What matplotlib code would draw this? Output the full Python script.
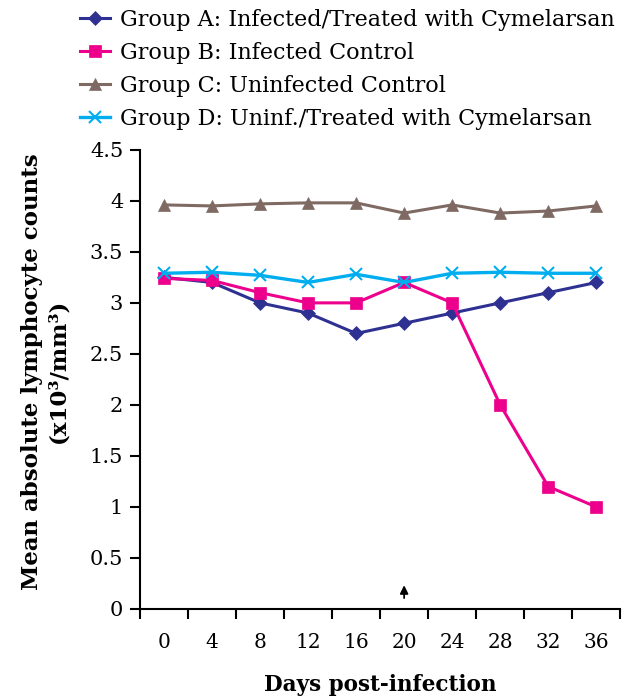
import numpy as np
import matplotlib
matplotlib.use("Agg")
import matplotlib.pyplot as plt
from matplotlib.ticker import FixedLocator, FixedFormatter

days = [0, 4, 8, 12, 16, 20, 24, 28, 32, 36]
group_a = [3.25, 3.20, 3.00, 2.90, 2.70, 2.80, 2.90, 3.00, 3.10, 3.20]
group_b = [3.24, 3.22, 3.10, 3.00, 3.00, 3.20, 3.00, 2.00, 1.20, 1.00]
group_c = [3.96, 3.95, 3.97, 3.98, 3.98, 3.88, 3.96, 3.88, 3.90, 3.95]
group_d = [3.29, 3.30, 3.27, 3.20, 3.28, 3.20, 3.29, 3.30, 3.29, 3.29]
labels = ["Group A: Infected/Treated with Cymelarsan",
          "Group B: Infected Control",
          "Group C: Uninfected Control",
          "Group D: Uninf./Treated with Cymelarsan"]
y_ticks = [0, 0.5, 1, 1.5, 2, 2.5, 3, 3.5, 4, 4.5]
y_tick_labels = ["0", "0.5", "1", "1.5", "2", "2.5", "3", "3.5", "4", "4.5"]

plt.rcParams["font.family"] = ["DejaVu Serif"]

fig = plt.figure(figsize=(6.33, 7), dpi=100)
ax = fig.add_axes([0.221, 0.13, 0.759, 0.656])

x = np.arange(len(days))
series = [
    (group_a, "#2E3192", "D", 7, 2.2),
    (group_b, "#EC008C", "s", 8.5, 2.2),
    (group_c, "#7F6A63", "^", 9, 2.2),
    (group_d, "#00AEEF", "x", 8, 2.4),
]
handles = []
for (vals, color, marker, ms, lw), lab in zip(series, labels):
    h, = ax.plot(x, vals, color=color, marker=marker, markersize=ms, lw=lw,
                 markeredgewidth=1.5 if marker == "x" else 0.5,
                 markeredgecolor=color, label=lab)
    handles.append(h)

ax.set_xlim(-0.5, len(days) - 0.5)
ax.set_ylim(0, 4.5)
ax.spines["top"].set_visible(False)
ax.spines["right"].set_visible(False)
for s in ("left", "bottom"):
    ax.spines[s].set_linewidth(1.5)

# ticks between categories, labels on categories
ax.xaxis.set_major_locator(FixedLocator(np.arange(-0.5, len(days), 1.0)))
ax.xaxis.set_major_formatter(FixedFormatter([""] * (len(days) + 1)))
ax.xaxis.set_minor_locator(FixedLocator(x))
ax.xaxis.set_minor_formatter(FixedFormatter([str(d) for d in days]))
ax.tick_params(axis="x", which="major", length=7, width=1.5, direction="out")
ax.tick_params(axis="x", which="minor", length=0, pad=17, labelsize=14.5)
ax.yaxis.set_major_locator(FixedLocator(y_ticks))
ax.yaxis.set_major_formatter(FixedFormatter(y_tick_labels))
ax.tick_params(axis="y", length=7, width=1.5, direction="out", labelsize=15, pad=5)

ax.set_xlabel("Days post-infection", fontsize=15.5, fontweight="bold", labelpad=16)
ax.set_ylabel("Mean absolute lymphocyte counts\n(x10³/mm³)",
              fontsize=16.5, fontweight="bold", linespacing=1.3)
ax.yaxis.set_label_coords(-0.146, 0.518)

# treatment marker
ax.annotate("", xy=(5, 0.26), xytext=(5, 0.08),
            arrowprops=dict(arrowstyle="-|>", color="black", lw=1.3,
                            mutation_scale=12))

fig.legend(handles=handles, loc="upper left", bbox_to_anchor=(0.113, 1.0),
           frameon=False, fontsize=16, handlelength=1.35, handletextpad=0.45,
           labelspacing=0.49, borderaxespad=0)

fig.savefig("out.png", dpi=100)
